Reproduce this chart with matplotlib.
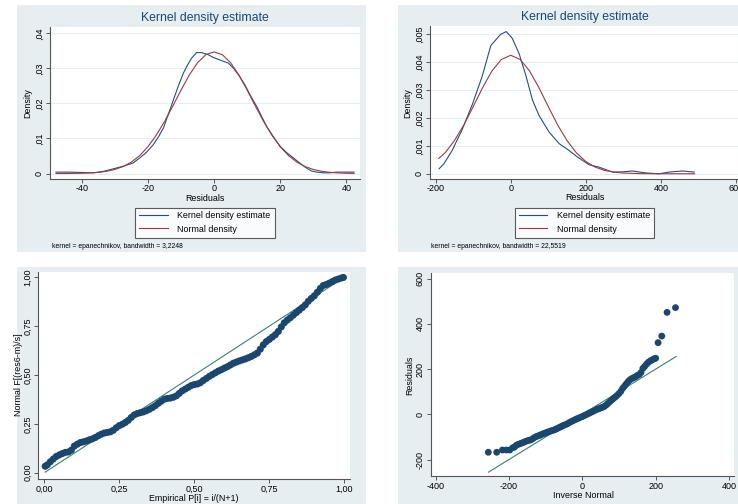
import matplotlib
matplotlib.use("Agg")
import matplotlib.pyplot as plt
from matplotlib.patches import Rectangle

plt.rcParams['font.family'] = ['Liberation Sans', 'DejaVu Sans']

# ---------------- data ----------------
# Panel 1: kernel density of residuals (small model)
kde1_x = [-47.8, -44, -40, -36.5, -34, -31.4, -27.4, -24.5, -22.4, -20.5, -18.4, -16.8, -15.3, -13.8,
          -12.3, -10.8, -9.3, -8, -6.8, -5.3, -3.8, -2, -0.2, 2, 4.3, 5.8, 7.5, 9.3, 11, 12.9, 14.4,
          15.9, 17.9, 19.9, 21.9, 23.9, 26.4, 28, 29.5, 31, 33, 35, 37, 40, 42.3]
kde1_y = [0.0004, 0.0004, 0.0003, 0.0002, 0.0005, 0.0011, 0.0021, 0.0030, 0.0045, 0.0060, 0.0082,
          0.0105, 0.013, 0.017, 0.021, 0.025, 0.0286, 0.031, 0.0329, 0.0345, 0.0345, 0.0340, 0.0331,
          0.0323, 0.0315, 0.0301, 0.0280, 0.0253, 0.0222, 0.0191, 0.0162, 0.0134, 0.0105, 0.0078,
          0.0060, 0.0045, 0.0026, 0.0015, 0.0007, 0.0004, 0.0002, 0.0002, 0.0004, 0.0004, 0.0004]
norm1_x = [-47.8, -45, -42.5, -40, -37.5, -35, -32.5, -30, -27.5, -25, -22.5, -20, -17.5, -15, -12.5,
           -10, -7.5, -5, -2.5, 0, 2.5, 5, 7.5, 10, 12.5, 15, 17.5, 20, 22.5, 25, 27.5, 30, 32.5, 35,
           37.5, 40, 42.3]
norm1_y = [0.000006, 0.000016, 0.000037, 0.00008, 0.00017, 0.00034, 0.00064, 0.00116, 0.00199,
           0.00327, 0.0051, 0.00765, 0.0109, 0.0148, 0.0192, 0.0238, 0.0281, 0.0316, 0.0339, 0.0347,
           0.0339, 0.0316, 0.0281, 0.0238, 0.0192, 0.0148, 0.0109, 0.00765, 0.0051, 0.00327, 0.00199,
           0.00116, 0.00064, 0.00034, 0.00017, 0.00008, 0.00004]
note1 = "kernel = epanechnikov, bandwidth = 3,2248"
ticks1_x = [-40, -20, 0, 20, 40]
ticks1_y = [0, 0.01, 0.02, 0.03, 0.04]
labels1_y = ["0", ",01", ",02", ",03", ",04"]

# Panel 2: kernel density of residuals (res6)
kde2_x = [-191, -178, -156, -129, -102, -76, -53, -40, -27, -12, 4, 22, 40, 58, 75, 102, 129, 155,
          178, 209, 235, 271, 300, 324, 360, 395, 422, 458, 489]
kde2_y = [0.00018, 0.00036, 0.00084, 0.0016, 0.0025, 0.0035, 0.0046, 0.0048, 0.0050, 0.0051, 0.00486,
          0.00432, 0.00354, 0.00264, 0.0021, 0.0015, 0.00108, 0.00084, 0.0006, 0.00032, 0.00024,
          0.00006, 0.00007, 0.0001, 0.00003, 0.0, 0.00006, 0.0001, 0.00006]
norm2_x = [-192, -175, -150, -125, -100, -75, -50, -25, 0, 25, 50, 75, 100, 125, 150, 175, 200, 225,
           250, 275, 300, 350, 400, 450, 490]
norm2_y = [0.00055, 0.00075, 0.00119, 0.00175, 0.00241, 0.00309, 0.00369, 0.0041, 0.00425, 0.0041,
           0.00369, 0.00309, 0.00241, 0.00175, 0.00119, 0.00075, 0.00044, 0.00024, 0.00012, 0.00006,
           0.000026, 0.000004, 0, 0, 0]
note2 = "kernel = epanechnikov, bandwidth = 22,5519"
ticks2_x = [-200, 0, 200, 400, 600]
ticks2_y = [0, 0.001, 0.002, 0.003, 0.004, 0.005]
labels2_y = ["0", ",001", ",002", ",003", ",004", ",005"]

# Panel 3: P-P plot (pnorm)
pp_x = [0.003, 0.01, 0.02, 0.03, 0.04, 0.05, 0.06, 0.07, 0.08, 0.09, 0.10, 0.11, 0.12, 0.13, 0.14,
        0.15, 0.16, 0.17, 0.18, 0.19, 0.20, 0.21, 0.22, 0.23, 0.24, 0.25, 0.26, 0.27, 0.28, 0.29,
        0.30, 0.31, 0.32, 0.33, 0.34, 0.35, 0.36, 0.37, 0.38, 0.39, 0.40, 0.41, 0.42, 0.43, 0.44,
        0.45, 0.46, 0.47, 0.48, 0.49, 0.50, 0.51, 0.52, 0.53, 0.54, 0.55, 0.56, 0.57, 0.58, 0.59,
        0.60, 0.61, 0.62, 0.63, 0.64, 0.65, 0.66, 0.67, 0.68, 0.69, 0.70, 0.71, 0.72, 0.73, 0.74,
        0.75, 0.76, 0.77, 0.78, 0.79, 0.80, 0.81, 0.82, 0.83, 0.84, 0.85, 0.86, 0.87, 0.88, 0.89,
        0.90, 0.91, 0.92, 0.93, 0.94, 0.95, 0.96, 0.97, 0.98, 0.99, 0.997]
pp_y = [0.033, 0.040, 0.056, 0.070, 0.083, 0.091, 0.098, 0.104, 0.106, 0.115, 0.136, 0.146, 0.154,
        0.158, 0.162, 0.168, 0.173, 0.180, 0.189, 0.197, 0.203, 0.206, 0.209, 0.217, 0.230, 0.241,
        0.248, 0.257, 0.268, 0.283, 0.296, 0.303, 0.307, 0.311, 0.317, 0.324, 0.333, 0.343, 0.355,
        0.366, 0.376, 0.380, 0.382, 0.386, 0.393, 0.406, 0.419, 0.428, 0.437, 0.446, 0.451, 0.454,
        0.460, 0.472, 0.482, 0.493, 0.502, 0.511, 0.520, 0.527, 0.535, 0.542, 0.551, 0.560, 0.566,
        0.572, 0.577, 0.582, 0.588, 0.595, 0.603, 0.612, 0.632, 0.654, 0.671, 0.682, 0.694, 0.706,
        0.723, 0.746, 0.767, 0.781, 0.793, 0.806, 0.819, 0.832, 0.845, 0.859, 0.877, 0.892, 0.905,
        0.923, 0.943, 0.958, 0.963, 0.970, 0.978, 0.986, 0.991, 0.996, 0.999]
pp_ref = [0.003, 0.997]
ticks3 = [0, 0.25, 0.5, 0.75, 1.0]
labels3 = ["0,00", "0,25", "0,50", "0,75", "1,00"]

# Panel 4: Q-Q plot (qnorm)
qq_x = [-256.5, -233.6, -218, -207, -198, -190, -185, -180, -175, -170, -165, -160, -155, -150, -145,
        -140, -135, -130, -125, -120, -115, -110, -105, -100, -95, -90, -85, -80, -75, -70, -65, -60,
        -55, -50, -45, -40, -35, -30, -25, -20, -15, -10, -5, 0, 5, 10, 15, 20, 25, 30, 35, 40, 45,
        50, 55, 60, 65, 70, 75, 80, 85, 90, 95, 100, 105, 110, 115, 120, 125, 130, 135, 140, 145,
        150, 155, 160, 165, 170, 175, 180, 185, 190, 195, 200, 206.5, 216.6, 231, 254]
qq_y = [-168, -168, -158, -158, -158, -148, -145, -137, -133, -130, -127, -124, -120, -117, -115,
        -113, -108, -102, -98, -95, -92, -88, -85, -82, -79, -76, -73, -71, -68, -64, -60, -56,
        -52, -48, -45, -41, -36, -32, -28, -24, -20, -17, -13, -10, -6, -2, 2, 6, 10, 14, 18, 22, 25,
        28, 31, 35, 41, 48, 56, 63, 70, 77, 84, 92, 102, 115, 125, 135, 145, 153, 158, 162, 166,
        172, 176, 185, 203, 212, 222, 230, 236, 240, 245, 248, 317, 346, 451, 472]
qq_ref = [-256, 256]
ticks4 = [-400, -200, 0, 200, 400]
ticks4_y = [-200, 0, 200, 400, 600]

# ---------------- style ----------------
W, H = 738, 504
BG = '#e6eef1'
NAVY = '#1a476f'
LINE_BLUE = '#23507c'
MAROON = '#9a3a42'
GREEN = '#3b7f74'
AXC = '#555555'
FS_TICK = 6.5
FS_LAB = 6.4
FS_TITLE = 8.8

fig = plt.figure(figsize=(W / 100, H / 100), dpi=100)
fig.patch.set_facecolor('white')


def bg(x0, y0, x1, y1):
    fig.patches.append(Rectangle((x0 / W, 1 - y1 / H), (x1 - x0) / W, (y1 - y0) / H,
                                 transform=fig.transFigure, facecolor=BG, edgecolor='none',
                                 zorder=-10))


def px_axes(l, t, r, b):
    ax = fig.add_axes([l / W, 1 - b / H, (r - l) / W, (b - t) / H])
    ax.set_facecolor('white')
    for s in ['top', 'right']:
        ax.spines[s].set_visible(False)
    for s in ['left', 'bottom']:
        ax.spines[s].set_color(AXC)
        ax.spines[s].set_linewidth(0.8)
    ax.tick_params(direction='out', length=2.8, width=0.7, color=AXC, labelsize=FS_TICK, pad=1.5)
    return ax


def ftext(x, y, s, **kw):
    fig.text(x / W, 1 - y / H, s, ha=kw.pop('ha', 'center'), va=kw.pop('va', 'center'), **kw)


bg(17, 5, 366, 252)
bg(398, 5, 760, 252)
bg(17, 267, 366, 520)
bg(398, 267, 760, 520)

# ---- Panel 1 ----
ax1 = px_axes(50, 27, 360, 178.5)
ax1.set_xlim(-49.6, 44.1)
ax1.set_ylim(-0.00142, 0.0418)
for v in ticks1_y:
    ax1.axhline(v, color=BG, lw=0.8, zorder=0)
l1, = ax1.plot(kde1_x, kde1_y, color=LINE_BLUE, lw=0.8)
l2, = ax1.plot(norm1_x, norm1_y, color=MAROON, lw=0.8)
ax1.set_xticks(ticks1_x)
ax1.set_xticklabels([str(t) for t in ticks1_x])
ax1.set_yticks(ticks1_y)
ax1.set_yticklabels(labels1_y, rotation=90, va='center')
ftext(205, 18, "Kernel density estimate", fontsize=FS_TITLE, color=NAVY)
ftext(205, 199, "Residuals", fontsize=FS_LAB)
ftext(28, 103, "Density", fontsize=FS_LAB, rotation=90)
leg = ax1.legend([l1, l2], ["Kernel density estimate", "Normal density"], loc='center',
                 bbox_to_anchor=(205 / W, 1 - 222.5 / H), bbox_transform=fig.transFigure,
                 fontsize=FS_LAB, frameon=True, fancybox=False, edgecolor='#333333',
                 handlelength=3.2, handletextpad=1.1, labelspacing=0.45, borderpad=0.45,
                 borderaxespad=0)
leg.get_frame().set_linewidth(0.8)
ftext(52, 247, note1, fontsize=4.9, ha='left')

# ---- Panel 2 ----
ax2 = px_axes(430, 26, 740, 178.5)
ax2.set_xlim(-215.2, 611)
ax2.set_ylim(-0.00017, 0.0053)
for v in ticks2_y:
    ax2.axhline(v, color=BG, lw=0.8, zorder=0)
m1, = ax2.plot(kde2_x, kde2_y, color=LINE_BLUE, lw=0.8)
m2, = ax2.plot(norm2_x, norm2_y, color=MAROON, lw=0.8)
ax2.set_xticks(ticks2_x)
ax2.set_xticklabels([str(t) for t in ticks2_x])
ax2.set_yticks(ticks2_y)
ax2.set_yticklabels(labels2_y, rotation=90, va='center')
ftext(585, 17, "Kernel density estimate", fontsize=FS_TITLE, color=NAVY)
ftext(585, 198, "Residuals", fontsize=FS_LAB)
ftext(408, 103, "Density", fontsize=FS_LAB, rotation=90)
leg2 = ax2.legend([m1, m2], ["Kernel density estimate", "Normal density"], loc='center',
                  bbox_to_anchor=(584.5 / W, 1 - 222.5 / H), bbox_transform=fig.transFigure,
                  fontsize=FS_LAB, frameon=True, fancybox=False, edgecolor='#333333',
                  handlelength=3.2, handletextpad=1.1, labelspacing=0.45, borderpad=0.45,
                  borderaxespad=0)
leg2.get_frame().set_linewidth(0.8)
ftext(431, 247, note2, fontsize=4.9, ha='left')

# ---- Panel 3 ----
ax3 = px_axes(38, 272, 350, 478.7)
ax3.set_xlim(-0.021, 1.019)
ax3.set_ylim(-0.0307, 1.027)
ax3.plot(pp_ref, pp_ref, color=GREEN, lw=0.8, zorder=2)
ax3.scatter(pp_x, pp_y, s=26, color=NAVY, edgecolors='none', zorder=3)
ax3.set_xticks(ticks3)
ax3.set_xticklabels(labels3)
ax3.set_yticks(ticks3)
ax3.set_yticklabels(labels3, rotation=90, va='center')
ftext(194, 498.5, "Empirical P[i] = i/(N+1)", fontsize=FS_LAB)
ftext(18.5, 375, "Normal F[(res6-m)/s]", fontsize=FS_LAB, rotation=90)

# ---- Panel 4 ----
ax4 = px_axes(430.7, 272.7, 734, 476.3)
ax4.set_xlim(-413.6, 413.6)
ax4.set_ylim(-274.3, 626.5)
ax4.plot(qq_ref, qq_ref, color=GREEN, lw=0.8, zorder=2)
ax4.scatter(qq_x, qq_y, s=24, color=NAVY, edgecolors='none', zorder=3)
ax4.set_xticks(ticks4)
ax4.set_xticklabels([str(t) for t in ticks4])
ax4.set_yticks(ticks4_y)
ax4.set_yticklabels([str(t) for t in ticks4_y], rotation=90, va='center')
ftext(583, 496, "Inverse Normal", fontsize=FS_LAB)
ftext(410, 375, "Residuals", fontsize=FS_LAB, rotation=90)

fig.savefig("out.png", dpi=100)
